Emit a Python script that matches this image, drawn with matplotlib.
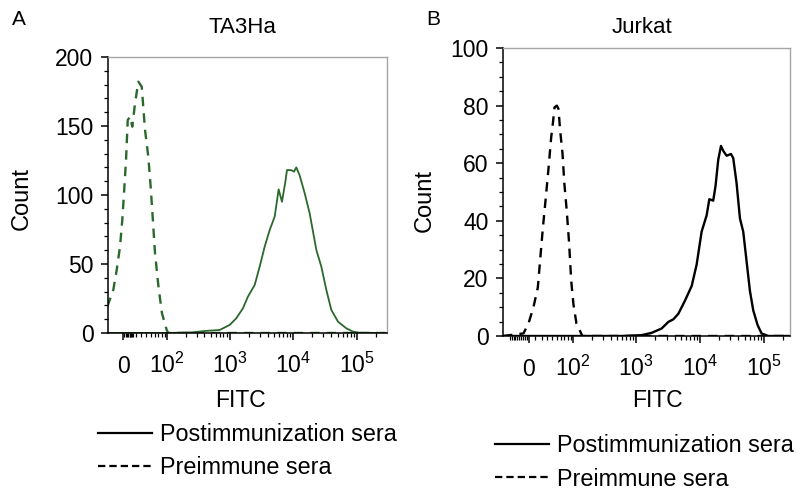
import numpy as np
import matplotlib
matplotlib.use("Agg")
import matplotlib.pyplot as plt
from matplotlib.lines import Line2D

plt.rcParams['font.family'] = ['Liberation Sans', 'DejaVu Sans']
plt.rcParams['mathtext.fontset'] = 'custom'
plt.rcParams['mathtext.rm'] = 'Liberation Sans'
plt.rcParams['mathtext.it'] = 'Liberation Sans'

# --- data (FITC intensity, cell count) ---
tA_post_x = [-24, 100, 260, 420, 697, 1000, 1270, 1620, 1940, 2480, 2970, 3560,
             4270, 5120, 5910, 6670, 7540, 8000, 9360, 10300, 11200, 12600,
             15200, 18200, 23200, 27800, 33300, 39900, 50800, 68700, 87500,
             111000, 300000]
tA_post_y = [0, 0, 0.5, 1.5, 2.2, 5.8, 10.6, 17.9, 26.3, 34.8, 48, 62.5,
             74.6, 84.3, 104.1, 95.1, 109.6, 118.1, 118, 116.9, 120, 114.5,
             101.2, 86.7, 60.1, 48, 31.2, 16.7, 8.2, 3.4, 1, 0.2, 0]

tA_pre_x = [-25.2, -15.1, -9.7, -4.6, -1.1, 1.5, 4.6, 7.2, 10.8, 14.4, 18.9,
            24.5, 30.7, 37.2, 44.1, 49.5, 54.3, 60.4, 70.1, 81.0, 97.9, 104,
            300000]
tA_pre_y = [19.1, 31.2, 45.7, 62.5, 81.9, 101.2, 125.4, 154.3, 156.8, 149.5,
            166.4, 182.1, 178.5, 147.1, 127.8, 106, 84.3, 57.8, 33.6, 14.3,
            2.2, 0, 0]

jk_post_x = [-45, 600, 1220, 1750, 2510, 3200, 3830, 4580, 5830, 7420, 8860,
             10600, 12700, 14000, 16100, 17500, 19300, 21300, 23100, 26100,
             30500, 33100, 37300, 42200, 47500, 53600, 60400, 68100, 79600,
             91900, 117000, 260000]
jk_post_y = [0, 0, 0.3, 1.1, 2.6, 4.9, 5.8, 7.7, 12.3, 17.4, 24.8, 36.2, 41.9,
             47.5, 47, 52.1, 61.2, 66.0, 64.3, 62.6, 63.2, 61.8, 53.2, 40.8,
             36.2, 25.9, 15.7, 8.9, 3.8, 0.9, 0, 0]

jk_pre_x = [-45, -8.2, -0.6, 7.0, 13.8, 17.4, 21.9, 27.6, 32.1, 37.6, 41.2,
            44.6, 50.0, 53.9, 58.0, 64.3, 69.6, 76.5, 84.3, 92.2, 100.5, 113,
            131, 141, 260000]
jk_pre_y = [0, 0.9, 4.3, 10, 16.8, 26, 37, 48.7, 57.8, 69, 74, 79.4, 80, 78.8,
            71.4, 63.5, 53, 44, 32.8, 19, 11, 4.3, 1.5, 0, 0]

x_major = [0, 1e2, 1e3, 1e4, 1e5]
x_labels = ['0', '$10^2$', '$10^3$', '$10^4$', '$10^5$']
legend_labels = ['Postimmunization sera', 'Preimmune sera']

W = 42.0  # width of the linear part of the biexponential-like axis


def fwd(x):
    return np.arcsinh(np.asarray(x) / W)


def inv(y):
    return W * np.sinh(np.asarray(y))


def log_minors():
    m = [k * 10 ** e for e in (2, 3, 4) for k in range(2, 10)]
    return m + [2e5]


def style_axis(ax, xlim, ylim, ymajor, yminor, zero_ticks):
    ax.set_xscale('function', functions=(fwd, inv))
    ax.set_xlim(*xlim)
    ax.set_ylim(*ylim)
    ax.set_xticks(x_major)
    ax.set_xticklabels(x_labels)
    ax.set_xticks(zero_ticks + list(range(10, 100, 10)) + log_minors(), minor=True)
    ax.set_yticks(ymajor)
    ax.set_yticks(yminor, minor=True)
    ax.tick_params(axis='both', which='major', length=5, width=1.1, labelsize=16.5)
    ax.tick_params(axis='both', which='minor', length=2.8, width=0.9)
    ax.tick_params(axis='y', which='major', pad=5.5)
    ax.tick_params(axis='x', which='major', pad=23.8)
    for t in ax.get_xticklabels():
        t.set_verticalalignment('baseline')
    for s in ('top', 'right'):
        ax.spines[s].set_color('#a5a5a5')
        ax.spines[s].set_linewidth(1)
    for s in ('left', 'bottom'):
        ax.spines[s].set_color('black')
        ax.spines[s].set_linewidth(1.1)


fig = plt.figure(figsize=(8, 4.93), dpi=100)
axA = fig.add_axes([108 / 800, 1 - 333 / 493, 279 / 800, 276 / 493])
axB = fig.add_axes([503 / 800, 1 - 336 / 493, 287 / 800, 288 / 493])

green = '#2b682c'
axA.plot(tA_post_x, tA_post_y, color=green, lw=1.3)
axA.plot(tA_pre_x, tA_pre_y, color=green, lw=1.7, ls=(0, (4, 3)))
style_axis(axA, (-24, 3.0e5), (0, 200), [0, 50, 100, 150, 200],
           list(range(0, 201, 10)), list(range(0, 17, 2)))

axB.plot(jk_post_x, jk_post_y, color='black', lw=1.7)
axB.plot(jk_pre_x, jk_pre_y, color='black', lw=1.7, ls=(0, (4, 3)))
style_axis(axB, (-45, 2.56e5), (0, 100), [0, 20, 40, 60, 80, 100],
           list(range(0, 101, 5)), list(range(-30, 1, 3)))

# panel letters, titles, axis labels
H = 493.0
fig.text(18.5 / 800, 1 - 25 / H, 'A', fontsize=15, ha='center', va='baseline')
fig.text(433 / 800, 1 - 25 / H, 'B', fontsize=15, ha='center', va='baseline')
fig.text(242 / 800, 1 - 33 / H, 'TA3Ha', fontsize=16, ha='center', va='baseline')
fig.text(642 / 800, 1 - 33 / H, 'Jurkat', fontsize=16, ha='center', va='baseline')
fig.text(22 / 800, 1 - 198 / H, 'Count', fontsize=17, rotation=90, ha='center', va='center')
fig.text(425 / 800, 1 - 201 / H, 'Count', fontsize=17, rotation=90, ha='center', va='center')
fig.text(240 / 800, 1 - 407 / H, 'FITC', fontsize=16.5, ha='center', va='baseline')
fig.text(657 / 800, 1 - 407 / H, 'FITC', fontsize=16.5, ha='center', va='baseline')

handles = [Line2D([], [], color='black', lw=1.6),
           Line2D([], [], color='black', lw=1.6, ls=(0, (3.3, 1.8)))]
for ax, (lx, ly) in ((axA, (98, 423)), (axB, (495, 434))):
    ax.legend(handles, legend_labels, loc='upper left',
              bbox_to_anchor=(lx / 800, 1 - ly / H), bbox_transform=fig.transFigure,
              frameon=False, borderpad=0, borderaxespad=0, handlelength=2.3,
              handletextpad=0.34, labelspacing=0.45, fontsize=16.8)

fig.savefig('out.png', dpi=100)
